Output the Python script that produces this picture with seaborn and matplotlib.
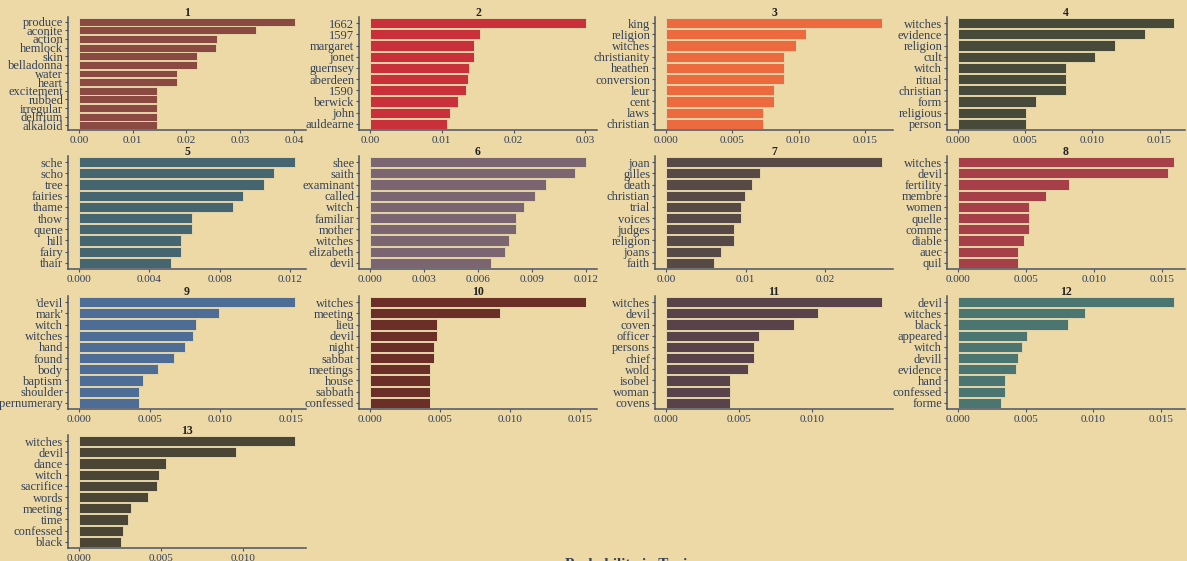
# top terms per topic from the LDA model, drawn as small bar panels
import numpy as np
import pandas as pd
import matplotlib
matplotlib.use('Agg')
import matplotlib.pyplot as plt
import seaborn as sns

# terms and probabilities for each topic
topic1_terms = ['produce', 'aconite', 'action', 'hemlock', 'skin', 'belladonna', 'water',
                'heart', 'excitement', 'rubbed', 'irregular', 'delirium', 'alkaloid']
topic1_probs = [0.0402, 0.0329, 0.0256, 0.0255, 0.0219, 0.0219, 0.0183,
                0.0183, 0.0146, 0.0146, 0.0146, 0.0146, 0.0146]

topic2_terms = ['1662', '1597', 'margaret', 'jonet', 'guernsey', 'aberdeen', '1590',
                'berwick', 'john', 'auldearne']
topic2_probs = [0.0301, 0.0153, 0.01449, 0.01447, 0.0138, 0.01359, 0.01332,
                0.01225, 0.01113, 0.01076]

topic3_terms = ['king', 'religion', 'witches', 'christianity', 'heathen', 'conversion',
                'leur', 'cent', 'laws', 'christian']
topic3_probs = [0.0163, 0.01057, 0.00977, 0.00894, 0.00894, 0.00894,
                0.00813, 0.00813, 0.0073, 0.0073]

topic4_terms = ['witches', 'evidence', 'religion', 'cult', 'witch', 'ritual', 'christian',
                'form', 'religious', 'person']
topic4_probs = [0.01609, 0.01391, 0.01171, 0.01023, 0.00806, 0.00806, 0.00806,
                0.00583, 0.00509, 0.00509]

topic5_terms = ['sche', 'scho', 'tree', 'fairies', 'thame', 'thow', 'quene', 'hill',
                'fairy', 'thair']
topic5_probs = [0.01227, 0.01107, 0.01051, 0.00933, 0.00874, 0.00641, 0.00641,
                0.00582, 0.00582, 0.00523]

topic6_terms = ['shee', 'saith', 'examinant', 'called', 'witch', 'familiar', 'mother',
                'witches', 'elizabeth', 'devil']
topic6_probs = [0.01202, 0.0114, 0.00978, 0.00915, 0.00855, 0.00814, 0.00814,
                0.00773, 0.00753, 0.00671]

topic7_terms = ['joan', 'gilles', 'death', 'christian', 'trial', 'voices', 'judges',
                'religion', 'joans', 'faith']
topic7_probs = [0.0271, 0.01177, 0.01077, 0.00986, 0.00947, 0.00947, 0.00852,
                0.00852, 0.00689, 0.00598]

topic8_terms = ['witches', 'devil', 'fertility', 'membre', 'women', 'quelle', 'comme',
                'diable', 'auec', 'quil']
topic8_probs = [0.01587, 0.01545, 0.00812, 0.00649, 0.00522, 0.00522, 0.00522,
                0.00483, 0.00444, 0.00444]

topic9_terms = ["'devil", "mark'", 'witch', 'witches', 'hand', 'found', 'body',
                'baptism', 'shoulder', 'supernumerary']
topic9_probs = [0.0153, 0.00992, 0.00832, 0.00804, 0.0075, 0.00674, 0.00563,
                0.00457, 0.00429, 0.00429]

topic10_terms = ['witches', 'meeting', 'lieu', 'devil', 'night', 'sabbat', 'meetings',
                 'house', 'sabbath', 'confessed']
topic10_probs = [0.01547, 0.00934, 0.00478, 0.00478, 0.00456, 0.00456, 0.00431,
                 0.00431, 0.00431, 0.00431]

topic11_terms = ['witches', 'devil', 'coven', 'officer', 'persons', 'chief', 'wold',
                 'isobel', 'woman', 'covens']
topic11_probs = [0.01482, 0.01042, 0.0088, 0.00641, 0.00602, 0.00602, 0.00563,
                 0.0044, 0.0044, 0.0044]

topic12_terms = ['devil', 'witches', 'black', 'appeared', 'witch', 'devill', 'evidence',
                 'hand', 'confessed', 'forme']
topic12_probs = [0.01596, 0.00938, 0.00816, 0.00514, 0.00475, 0.00446, 0.00432,
                 0.0035, 0.0035, 0.00322]

topic13_terms = ['witches', 'devil', 'dance', 'witch', 'sacrifice', 'words', 'meeting',
                 'time', 'confessed', 'black']
topic13_probs = [0.01316, 0.00953, 0.0053, 0.00488, 0.00474, 0.00418, 0.00315,
                 0.00301, 0.00271, 0.00259]

topic_colors = ['#8a4a42', '#c9303a', '#ec6a3e', '#474a38', '#456570', '#7a6570', '#574946',
                '#a63f48', '#4e6d96', '#6c2f27', '#5a424b', '#4b7570', '#4a4535']
tick_steps = [0.01, 0.01, 0.005, 0.005, 0.004, 0.003, 0.01,
              0.005, 0.005, 0.005, 0.005, 0.005, 0.005]
tick_decimals = [2, 2, 3, 3, 3, 3, 2, 3, 3, 3, 3, 3, 3]

topics = [
    (topic1_terms, topic1_probs), (topic2_terms, topic2_probs), (topic3_terms, topic3_probs),
    (topic4_terms, topic4_probs), (topic5_terms, topic5_probs), (topic6_terms, topic6_probs),
    (topic7_terms, topic7_probs), (topic8_terms, topic8_probs), (topic9_terms, topic9_probs),
    (topic10_terms, topic10_probs), (topic11_terms, topic11_probs),
    (topic12_terms, topic12_probs), (topic13_terms, topic13_probs),
]

sns.set_style('white')
plt.rcParams['font.family'] = ['Liberation Serif', 'DejaVu Serif']

paper = '#ecd9a6'
ink = '#33405a'
axis_col = '#4b5366'

W, H = 1187, 561
fig = plt.figure(figsize=(W / 100, H / 100), dpi=100, facecolor=paper)

col_left = [68, 359, 655, 947]
row_bottom = [130, 269, 409, 548]
ax_w, ax_h = 238, 113

for i, (terms, probs) in enumerate(topics):
    r, c = divmod(i, 4)
    ax = fig.add_axes([col_left[c] / W, 1 - row_bottom[r] / H, ax_w / W, ax_h / H])
    ax.set_facecolor('none')

    df = pd.DataFrame({'term': terms, 'prob': probs})
    sns.barplot(data=df, x='prob', y='term', orient='h', color=topic_colors[i],
                saturation=1, width=0.92, edgecolor='#e4d5a8', linewidth=0.7, ax=ax)

    top = max(probs)
    ax.set_xlim(-0.05 * top, 1.05 * top)
    ax.set_ylim(len(terms) - 0.45, -0.55)
    step = tick_steps[i]
    ticks = np.arange(0, top + step * 0.02, step)
    ax.set_xticks(ticks)
    ax.set_xticklabels([f'{t:.{tick_decimals[i]}f}' for t in ticks])

    ax.set_xlabel('')
    ax.set_ylabel('')
    ax.set_title(str(i + 1), fontsize=8.5, fontweight='bold', color='#222222', pad=1)

    sns.despine(ax=ax)
    for side in ['left', 'bottom']:
        ax.spines[side].set_color(axis_col)
        ax.spines[side].set_linewidth(1.1)
    ax.tick_params(axis='x', labelsize=8, colors=axis_col, labelcolor=ink,
                   length=2.5, width=0.8, pad=1.5, bottom=True)
    ax.tick_params(axis='y', labelsize=9, colors=axis_col, labelcolor=ink,
                   length=2.5, width=0.8, pad=1, left=True)

# axis title sits at the bottom edge, mostly cut off
fig.text(0.53, -0.007, 'Probability in Topic', ha='center', va='center',
         fontsize=11, fontweight='bold', color=ink)

fig.savefig('out.png', dpi=100, facecolor=paper)
